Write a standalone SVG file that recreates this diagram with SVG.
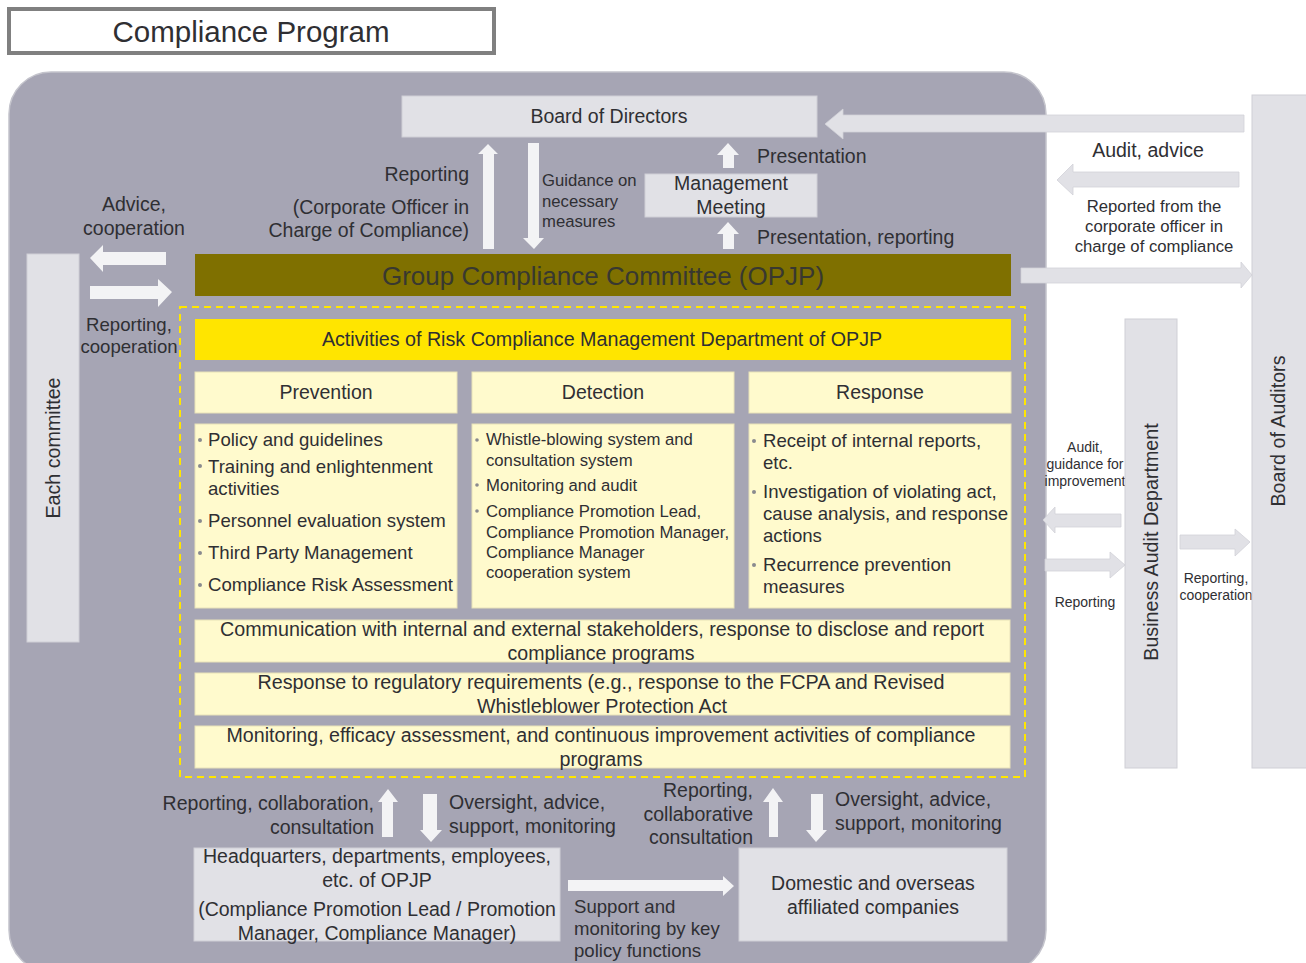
<svg xmlns="http://www.w3.org/2000/svg" width="1306" height="963" viewBox="0 0 1306 963">
  <style>
    text { font-family: "Liberation Sans", Arial, sans-serif; fill: #2f2f33; }
    .t18 { font-size: 19.5px; }
    .t17 { font-size: 18.6px; }
    .t16 { font-size: 16.7px; }
    .t14 { font-size: 14px; }
    .tv { font-size: 19.7px; }
    .mid { text-anchor: middle; }
    .end { text-anchor: end; }
    .box { fill: #e1e1e6; stroke: #cfcfd6; stroke-width: 1; }
    .pale { fill: #fffacd; stroke: #e8e2b8; stroke-width: 1; }
    .arrW { fill: #f3f3f5; }
    .arrG { fill: #e1e1e6; stroke: #d2d2d8; stroke-width: 0.8; }
    .bul { fill: #8a8a8e; }
  </style>

  <rect width="1306" height="963" fill="#ffffff"/>

  <!-- title -->
  <g id="title">
    <rect x="9" y="9" width="485" height="44" fill="#ffffff" stroke="#808080" stroke-width="4"/>
    <text x="251" y="42" class="mid" style="font-size:29.5px">Compliance  Program</text>
  </g>

  <!-- company frame -->
  <rect id="frame" x="9" y="72" width="1037" height="900" rx="42" fill="#a6a5b4" stroke="#c4c4cc" stroke-width="1.5"/>

  <!-- connectors -->
  <g id="connectors">
    <!-- Board of Auditors -> Board of Directors -->
    <polygon class="arrG" points="1244,115 843,115 843,109 825,124 843,139 843,132 1244,132"/>
    <!-- Reported from the corporate officer -->
    <polygon class="arrG" points="1239,172 1073,172 1073,164 1057,180 1073,195 1073,187 1239,187"/>
    <!-- GCC -> Board of Auditors -->
    <polygon class="arrG" points="1021,268 1241,268 1241,262 1252,275 1241,288 1241,283 1021,283"/>
    <!-- Business Audit -> frame (audit, guidance) -->
    <polygon class="arrG" points="1121,514 1055,514 1055,507 1043,520 1055,533 1055,527 1121,527"/>
    <!-- frame -> Business Audit (reporting) -->
    <polygon class="arrG" points="1045,559 1110,559 1110,552 1125,565 1110,578 1110,571 1045,571"/>
    <!-- Business Audit -> Board of Auditors -->
    <polygon class="arrG" points="1180,535 1235,535 1235,529 1250,542 1235,556 1235,549 1180,549"/>

    <!-- reporting up to Board of Directors -->
    <polygon class="arrW" points="483,249 483,154 478,154 488,144 498,154 494,154 494,249"/>
    <!-- guidance down to GCC -->
    <polygon class="arrW" points="528,143 539,143 539,238 544,238 534,249 523,238 528,238"/>
    <!-- presentation up -->
    <polygon class="arrW" points="723,168 723,155 717,155 728,143 739,155 734,155 734,168"/>
    <!-- presentation, reporting up -->
    <polygon class="arrW" points="723,249 723,234 717,234 728,222 739,234 734,234 734,249"/>

    <!-- advice, cooperation (left) -->
    <polygon class="arrW" points="166,252 103,252 103,245 90,258 103,272 103,265 166,265"/>
    <!-- reporting, cooperation (right) -->
    <polygon class="arrW" points="90,286 158,286 158,279 172,292 158,307 158,299 90,299"/>

    <!-- bottom left pair -->
    <polygon class="arrW" points="382,837 382,802 378,802 388,789 398,802 393,802 393,837"/>
    <polygon class="arrW" points="423,794 437,794 437,830 442,830 431,842 420,830 423,830"/>
    <!-- bottom right pair -->
    <polygon class="arrW" points="769,837 769,802 763,802 773,788 783,802 778,802 778,837"/>
    <polygon class="arrW" points="811,794 823,794 823,830 827,830 816,842 806,830 811,830"/>
    <!-- support and monitoring -->
    <polygon class="arrW" points="568,880 723,880 723,876 734,886 723,896 723,891 568,891"/>
  </g>

  <!-- connector labels -->
  <g id="labels">
    <text x="469" y="181" class="t18 end">Reporting</text>
    <text x="469" y="214" class="t18 end">(Corporate Officer in</text>
    <text x="469" y="237" class="t18 end">Charge  of Compliance)</text>
    <text x="542" y="186" class="t16">Guidance on</text>
    <text x="542" y="207" class="t16">necessary</text>
    <text x="542" y="227" class="t16">measures</text>
    <text x="757" y="163" class="t18">Presentation</text>
    <text x="757" y="244" class="t18">Presentation,  reporting</text>

    <text x="1148" y="157" class="t18 mid">Audit, advice</text>
    <text x="1154" y="212" class="t16 mid">Reported from the</text>
    <text x="1154" y="232" class="t16 mid">corporate officer in</text>
    <text x="1154" y="252" class="t16 mid">charge of compliance</text>

    <text x="1085" y="452" class="t14 mid">Audit,</text>
    <text x="1085" y="469" class="t14 mid">guidance for</text>
    <text x="1085" y="486" class="t14 mid">improvement</text>
    <text x="1085" y="607" class="t14 mid">Reporting</text>
    <text x="1216" y="583" class="t14 mid">Reporting,</text>
    <text x="1216" y="600" class="t14 mid">cooperation</text>

    <text x="134" y="211" class="t18 mid">Advice,</text>
    <text x="134" y="235" class="t18 mid">cooperation</text>
    <text x="129" y="331" class="t17 mid">Reporting,</text>
    <text x="129" y="353" class="t17 mid">cooperation</text>

    <text x="374" y="810" class="t18 end">Reporting,  collaboration,</text>
    <text x="374" y="834" class="t18 end">consultation</text>
    <text x="449" y="809" class="t18">Oversight,  advice,</text>
    <text x="449" y="833" class="t18">support,  monitoring</text>
    <text x="753" y="797" class="t18 end">Reporting,</text>
    <text x="753" y="821" class="t18 end">collaborative</text>
    <text x="753" y="844" class="t18 end">consultation</text>
    <text x="835" y="806" class="t18">Oversight,  advice,</text>
    <text x="835" y="830" class="t18">support,  monitoring</text>
    <text x="574" y="913" class="t17">Support and</text>
    <text x="574" y="935" class="t17">monitoring by key</text>
    <text x="574" y="957" class="t17">policy functions</text>
  </g>

  <!-- nodes -->
  <g id="board-of-directors">
    <rect class="box" x="402" y="96" width="415" height="41"/>
    <text x="609" y="123" class="t18 mid">Board of Directors</text>
  </g>

  <g id="management-meeting">
    <rect class="box" x="645" y="174" width="172" height="43"/>
    <text x="731" y="190" class="t18 mid">Management</text>
    <text x="731" y="214" class="t18 mid">Meeting</text>
  </g>

  <g id="board-of-auditors">
    <rect class="box" x="1252" y="95" width="60" height="673"/>
    <text transform="translate(1285,431) rotate(-90)" class="tv mid">Board of Auditors</text>
  </g>

  <g id="business-audit">
    <rect class="box" x="1125" y="319" width="52" height="449" stroke="#b8b8c0"/>
    <text transform="translate(1158,542) rotate(-90)" class="tv mid">Business  Audit Department</text>
  </g>

  <g id="each-committee">
    <rect class="box" x="27" y="254" width="52" height="388"/>
    <text transform="translate(60,448) rotate(-90)" class="tv mid">Each committee</text>
  </g>

  <g id="group-compliance-committee">
    <rect x="195" y="254" width="816" height="42" fill="#7f7000"/>
    <text x="603" y="285" class="mid" style="font-size:26px;fill:#383830">Group Compliance Committee (OPJP)</text>
  </g>

  <g id="risk-compliance-activities">
    <rect x="180" y="307" width="845" height="470" fill="none" stroke="#ffe600" stroke-width="2" stroke-dasharray="7,5"/>

    <g id="activities-header">
      <rect x="195" y="319" width="816" height="41" fill="#ffe500"/>
      <text x="602" y="346" class="mid" style="font-size:19.7px">Activities of Risk Compliance  Management  Department  of OPJP</text>
    </g>

    <g id="prevention">
      <rect class="pale" x="195" y="372" width="262" height="41"/>
      <text x="326" y="399" class="t18 mid">Prevention</text>
      <rect class="pale" x="195" y="424" width="262" height="184"/>
      <circle class="bul" cx="200" cy="440" r="2"/>
      <text x="208" y="446" class="t17">Policy and guidelines</text>
      <circle class="bul" cx="200" cy="466" r="2"/>
      <text x="208" y="473" class="t17">Training  and  enlightenment</text>
      <text x="208" y="495" class="t17">activities</text>
      <circle class="bul" cx="200" cy="521" r="2"/>
      <text x="208" y="527" class="t17">Personnel evaluation system</text>
      <circle class="bul" cx="200" cy="553" r="2"/>
      <text x="208" y="559" class="t17">Third  Party Management</text>
      <circle class="bul" cx="200" cy="585" r="2"/>
      <text x="208" y="591" class="t17">Compliance Risk Assessment</text>
    </g>

    <g id="detection">
      <rect class="pale" x="472" y="372" width="262" height="41"/>
      <text x="603" y="399" class="t18 mid">Detection</text>
      <rect class="pale" x="472" y="424" width="262" height="184"/>
      <circle class="bul" cx="477" cy="440" r="1.8"/>
      <text x="486" y="445" class="t16">Whistle-blowing system and</text>
      <text x="486" y="466" class="t16">consultation system</text>
      <circle class="bul" cx="477" cy="485" r="1.8"/>
      <text x="486" y="491" class="t16">Monitoring and audit</text>
      <circle class="bul" cx="477" cy="511" r="1.8"/>
      <text x="486" y="517" class="t16">Compliance Promotion Lead,</text>
      <text x="486" y="538" class="t16">Compliance Promotion Manager,</text>
      <text x="486" y="558" class="t16">Compliance Manager</text>
      <text x="486" y="578" class="t16">cooperation system</text>
    </g>

    <g id="response">
      <rect class="pale" x="749" y="372" width="262" height="41"/>
      <text x="880" y="399" class="t18 mid">Response</text>
      <rect class="pale" x="749" y="424" width="262" height="184"/>
      <circle class="bul" cx="754" cy="441" r="2"/>
      <text x="763" y="447" class="t17">Receipt of internal reports,</text>
      <text x="763" y="469" class="t17">etc.</text>
      <circle class="bul" cx="754" cy="492" r="2"/>
      <text x="763" y="498" class="t17">Investigation of violating act,</text>
      <text x="763" y="520" class="t17">cause analysis, and response</text>
      <text x="763" y="542" class="t17">actions</text>
      <circle class="bul" cx="754" cy="565" r="2"/>
      <text x="763" y="571" class="t17">Recurrence prevention</text>
      <text x="763" y="593" class="t17">measures</text>
    </g>

    <g id="communication">
      <rect class="pale" x="195" y="620" width="815" height="42"/>
      <text x="602" y="636" class="t18 mid" textLength="764" lengthAdjust="spacingAndGlyphs">Communication  with  internal  and  external  stakeholders,  response  to disclose  and  report</text>
      <text x="601" y="660" class="t18 mid" textLength="187" lengthAdjust="spacingAndGlyphs">compliance  programs</text>
    </g>

    <g id="regulatory">
      <rect class="pale" x="195" y="673" width="815" height="42"/>
      <text x="601" y="689" class="t18 mid" textLength="687" lengthAdjust="spacingAndGlyphs">Response  to regulatory  requirements  (e.g.,  response  to the  FCPA  and  Revised</text>
      <text x="602" y="713" class="t18 mid" textLength="250" lengthAdjust="spacingAndGlyphs">Whistleblower  Protection Act</text>
    </g>

    <g id="monitoring">
      <rect class="pale" x="195" y="726" width="815" height="42"/>
      <text x="601" y="742" class="t18 mid" textLength="749" lengthAdjust="spacingAndGlyphs">Monitoring,  efficacy assessment,  and  continuous  improvement  activities  of compliance</text>
      <text x="601" y="766" class="t18 mid" textLength="83" lengthAdjust="spacingAndGlyphs">programs</text>
    </g>
  </g>

  <g id="headquarters">
    <rect class="box" x="194" y="848" width="366" height="93"/>
    <text x="377" y="863" class="t18 mid">Headquarters,  departments,  employees,</text>
    <text x="377" y="887" class="t18 mid">etc. of OPJP</text>
    <text x="377" y="916" class="t18 mid">(Compliance  Promotion Lead  /  Promotion</text>
    <text x="377" y="940" class="t18 mid">Manager,  Compliance  Manager)</text>
  </g>

  <g id="affiliated-companies">
    <rect class="box" x="739" y="848" width="268" height="93"/>
    <text x="873" y="890" class="t18 mid">Domestic and  overseas</text>
    <text x="873" y="914" class="t18 mid">affiliated companies</text>
  </g>
</svg>
